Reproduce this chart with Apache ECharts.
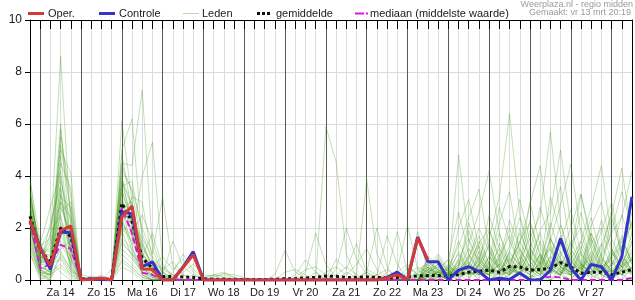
<!DOCTYPE html>
<html><head><meta charset="utf-8">
<script src="https://cdn.jsdelivr.net/npm/echarts@6.0.0/dist/echarts.min.js"></script>
<style>html,body{margin:0;padding:0;background:#fff}#c{width:635px;height:300px}</style>
</head><body><div id="c"></div>
<script>
// 6-hourly steps starting vr 13 mrt 18:00
const dayLabels = ['Za 14','Zo 15','Ma 16','Di 17','Wo 18','Do 19','Vr 20','Za 21','Zo 22','Ma 23','Di 24','Wo 25','Do 26','Vr 27'];
const yTicks = [0, 2, 4, 6, 8, 10];
const legendLabels = ['Oper.', 'Controle', 'Leden', 'gemiddelde', 'mediaan (middelste waarde)'];
const headerLines = ['Weerplaza.nl - regio midden', 'Gemaakt: vr 13 mrt 20:19'];

const oper = [2.3,1.2,0.55,1.9,2.08, 0,0.02,0.08,0, 2.43,2.85,0.42,0.41,0,0,0.48,0.97,0, 0,0,0,0,0,0,0,0,0,0,0, 0,0,0,0,0,0,0.08,0.2,0.02,1.62, 0.77,
  null,null,null,null,null,null,null,null,null,null,null,null,null,null,null,null,null,null,null,null];
const controle = [2.25,1.25,0.41,1.85,1.82, 0,0.05,0.02,0, 2.63,2.54,0.51,0.7,0,0,0.5,1.09,0, 0,0,0,0,0,0,0,0,0,0,0, 0,0,0,0,0,0,0.1,0.3,0,1.65,
  0.7,0.7,0,0.38,0.51,0.33,0,0.07,0.02,0.27,0,0,0.37,1.6,0.45,0,0.6,0.51,0,0.9,3.2];
const gemiddelde = [2.45,1.15,0.7,2.0,1.67, 0.05,0.03,0.04,0.03, 2.95,2.24,0.85,0.45,0.13,0.13,0.12,0.1,0.05, 0.03,0.03,0.02,0.02,0.02,0.02,0.03,0.05,0.05,0.08,0.1, 0.15,0.14,0.1,0.1,0.12,0.1,0.08,0.1,0.12,0.16,
  0.17,0.17,0.16,0.2,0.3,0.34,0.38,0.3,0.52,0.5,0.38,0.4,0.45,0.67,0.5,0.26,0.3,0.3,0.2,0.3,0.4];
const mediaan = [2.3,0.45,0.6,1.35,1.2, 0,0,0,0, 2.77,1.8,0.28,0.2,0,0,0,0,0, 0,0,0,0,0,0,0,0,0,0,0, 0,0,0,0,0,0,0,0,0,0,
  0,0,0,0,0,0,0,0,0,0,0,0.05,0.13,0.1,0,0,0,0,0,0,0.08];

const leden = [
 [2.2,0.8,0.5,3.0,1.5, 0,0,0,0, 2.5,2.0,0.6,0.3,0,0,0,0,0, 0,0,0,0,0,0,0,0,0,0,0, 0,0,0,0,0,0,0,0,0.2,0.5, 0.3,0.2,0,0.5,1.2,0.8,0.3,0,0.2,1.5,2.2,1.0,0.4,0.2,0,0.6,1.8,0.9,0.3,0.5,1.2],
 [2.8,1.0,1.5,8.6,2.0, 0.1,0,0,0, 3.5,2.2,0.8,0.2,0,0,0,0,0, 0,0.1,0,0,0,0,0,0,0,0,0, 0,0,0,0,0,0,0,0,0,0, 0,0,0.2,0.8,0.4,0,0,0.3,1.0,0.6,0.2,0,0,0.5,1.4,2.0,0.8,0.2,0,0.4,0.9],
 [3.2,1.2,0.9,6.0,1.2, 0,0,0,0, 6.1,3.0,1.0,0.5,0.1,0,0,0,0, 0,0,0,0,0,0,0,0,0,0,0, 5.9,4.55,1.0,0.1,0,0,0,0,0,0.3, 0.5,1.0,0.4,0,0,0.6,2.5,1.2,0.6,0.2,0,0.8,1.2,0.3,0,0.5,0.8,0.2,0,0.6,1.5],
 [4.0,0.6,0.3,5.8,2.5, 0.1,0,0,0, 5.0,6.2,1.5,0.4,0,0,0,0,0, 0,0,0,0,0,0,0,0,0,0,0, 0,0,0,0,0,0.2,0.4,0.1,0,0.2, 0.8,0.4,0.2,4.8,1.5,0.6,0.2,0,0.5,1.8,0.9,0.3,0,0.2,1.0,2.6,1.2,0.4,0.8,1.6,0.7],
 [1.5,0.3,0.2,5.5,3.2, 0,0,0,0, 4.5,4.4,7.3,1.2,0.2,0,0,0,0, 0,0,0,0,0,0,0.2,1.15,0.3,0.1,0, 0,0,0,0,0,0,0,0,0,0, 0.2,0,0.5,1.3,2.4,3.5,1.2,0.4,0,0.3,1.1,2.8,1.4,0.5,0.2,0,0.7,1.9,3.0,1.1,0.3],
 [2.5,0.9,0.6,5.0,4.1, 0,0,0,0, 2.0,1.5,4.0,5.3,0.6,0.1,0,0,0, 0,0,0,0,0,0,0,0,0,0,0, 0,0.2,0.5,0.2,0,0,0,0.3,0.6,0.2, 0,0.3,0.1,0.6,1.4,2.6,4.2,1.8,0.5,0.2,0,0.4,1.6,0.8,0.2,1.2,2.4,0.9,0.3,0,0.5],
 [1.8,0.5,0.4,4.8,1.0, 0,0,0,0, 3.8,2.8,0.5,0.1,0,0,0,0,0, 0,0,0,0,0,0,0,0,0,0.3,1.8, 0.6,0.1,0,0,0,0,0,0,0,0, 0.4,0.6,0.2,0,0.9,1.7,0.6,2.2,3.4,1.0,0.3,0.6,0.2,1.5,2.7,1.0,0.2,0,0.6,1.3,2.2],
 [3.0,1.4,2.8,4.2,0.8, 0,0,0,0.4, 4.2,3.5,2.0,1.0,3.2,0.5,0.2,0,0, 0,0,0,0,0,0,0,0,0,0,0, 0,0,0,0,0.3,0.1,0,0,0,0.4, 0.1,0,0.4,1.0,0.3,0.5,1.6,3.2,6.4,2.5,1.2,0.4,0,0.3,0.8,0.2,1.4,2.0,0.7,0.2,0],
 [2.0,0.4,0.1,4.5,3.5, 0,0,0,0, 1.5,1.0,0.3,0,0,0,0,0,0, 0,0,0,0,0,0,0,0,0,0,0, 0,0,0,0.2,3.85,1.0,0.2,0,0,0, 0.6,0.2,0,0.3,0.7,0.2,0.9,0.5,1.3,3.1,1.5,0.6,2.0,3.6,1.2,0.5,0,0.3,1.0,2.5,1.4],
 [1.2,0.2,0.0,3.8,2.2, 0,0,0,0, 3.0,2.5,1.2,0.6,0.2,1.5,0.5,0.2,0, 0.2,0.3,0.1,0,0,0,0,0,0,0,0, 0,0,0,0,0,0,0,0.2,0.1,0, 0,0.1,0.6,0.2,0,1.1,0.4,1.8,0.7,1.4,2.9,4.4,1.6,0.8,0.3,1.5,0.6,0.2,0.9,1.7,0.6],
 [2.6,1.1,1.2,3.5,0.5, 0,0,0,0, 2.2,3.2,3.0,0.8,0.3,0,0,0,0, 0,0,0,0,0,0,0,0,0,0,0, 0,0.4,2.0,0.8,0.2,0,0,0,0,0, 0.3,0.5,0.2,2.0,3.1,1.2,0.4,0,0.6,0.2,1.3,0.5,3.2,1.8,0.4,0,0.8,2.3,1.1,0.3,0.8],
 [3.5,0.7,0.8,3.2,2.8, 0,0,0,0, 4.0,2.0,0.4,0,0,0,0,0,0, 0,0,0,0,0,0,0,0,0.2,0.77,0.3, 0,0,0,0,0,0,0,0,0,0, 0.7,0.3,0.1,0.4,0.2,0.8,1.9,0.9,0.3,0.7,1.6,2.5,5.7,2.2,0.6,1.3,0.4,0,0.5,1.2,3.0],
 [1.0,0.1,0.0,2.8,1.8, 0,0,0,0, 3.3,1.6,0.7,0.3,0,0,0,0,0, 0,0,0,0,0,0,0,0,0,0,0, 0,0,0,0,0.3,2.0,0.5,0,0,0, 0.2,0.9,0.3,0,0.5,0.2,0.7,2.8,1.5,0.6,0.2,1.0,0.3,0.9,2.0,3.3,1.6,0.5,0,0.4,1.1],
 [2.3,0.6,1.8,2.5,0.3, 0.2,0.1,0,0, 1.8,2.4,1.4,0.5,0.9,0.4,0.8,0.3,0, 0.1,0.25,0.2,0.1,0,0,0,0,0,0,0, 0,0,0,0,0,0,0,0,0,0, 0.5,0.2,0,0.8,1.6,0.7,0.3,0.2,1.1,2.4,0.8,1.9,2.6,5.0,2.1,0.6,0.2,1.0,2.7,0.9,0.4],
 [3.8,1.5,0.5,2.2,1.2, 0,0,0,0, 2.7,1.3,0.2,0,0,0,0,0,0, 0,0,0,0,0,0,0,0,0,0,0, 0,0,0.3,0.1,0,0,0,0,0.5,0.2, 0,0.4,0.8,0.3,0.1,0.6,1.3,0.5,0,0.4,1.0,0.3,0.8,1.4,0.5,0.2,1.6,0.6,1.9,3.4,2.0],
 [2.0,0.5,0.3,2.0,2.0, 0,0,0,0, 4.8,2.6,0.9,0.4,0.1,0,0,0,0, 0,0,0,0,0,0,0,0.3,0.4,0.2,0, 0,0,0,0,0,0,0,0,0,0, 0.9,0.6,0.2,0.5,2.2,1.0,0.3,0.8,2.3,1.2,0.5,0.2,1.5,2.9,4.45,1.8,0.6,0.3,0.7,0.2,0.9],
 [1.6,0.3,0.2,1.8,0.6, 0,0,0,0, 1.2,0.8,0.3,0.1,0,0,0,0,0, 0,0,0,0,0,0,0,0,0,0,0, 0,0,0,0,0,0.2,1.7,0.6,0,0, 0.2,0.1,0.3,1.5,0.6,0.2,0.5,1.2,0.4,0.2,0.7,1.8,0.6,0.3,1.0,0.4,2.1,3.0,1.2,0.5,1.8],
 [2.9,0.9,1.0,1.5,0.9, 0,0,0,0, 3.6,3.8,1.8,0.7,0.4,0.2,0,0,0, 0,0,0,0,0,0,0,0,0,0,0, 0,0,0,0,0,0,0.3,1.86,0.3,0, 0.4,0.8,0.3,0.2,0.6,1.4,2.0,0.7,0.2,0.9,0.4,0.1,0.6,1.7,0.8,1.5,2.8,4.4,1.6,0.7,0.3],
 [3.3,1.0,0.4,1.2,1.5, 0,0,0,0, 2.4,1.1,0.4,0.2,0,0.3,1.0,0.4,0.1, 0.2,0.1,0,0,0,0,0,0,0,0,0, 0,0,0,0,0,0,0,0,0,0, 0.1,0.3,0.6,0.2,1.0,0.4,0.2,0.9,1.7,0.6,3.0,1.3,0.4,0.2,0.6,0.3,1.1,0.5,2.4,1.0,2.6],
 [1.4,0.2,0.1,1.0,0.4, 0,0,0,0, 0.8,0.5,0.1,0,0,0,0,0,0, 0,0,0,0,0,0,0,0,0,0,0, 0,0,0,0,0,0,0,0.4,2.1,0.4, 0.6,0.2,0,0.4,0.8,2.0,1.1,0.4,0.2,0.5,1.2,0.6,2.2,1.0,0.3,0.8,0.4,1.3,2.5,4.3,1.7],
 [2.4,0.7,0.6,0.8,0.2, 0,0,0,0, 2.9,2.1,0.6,0.2,0,0,0,0,0, 0,0,0,0,0,0,0,0,0,0,0, 0,0,0,0,0,0,0,0,0.3,1.86, 0.3,0.2,0.5,0.2,0.3,0.6,0.2,1.4,0.6,0.3,0.1,0.4,1.2,0.5,0.3,1.1,0.4,0.2,0.6,0.8,0.3],
 [3.0,0.8,1.4,3.0,2.4, 0,0,0,0, 3.1,1.8,2.5,1.5,0.3,0,0,0,0, 0,0,0,0,0,0,0,0,0.1,0.4,0.5, 0.2,0,0,0,0,0,0,0,0,0, 0.5,0.1,0.2,0.6,1.9,0.8,0.4,0.1,0.6,1.5,0.7,0.3,0.9,2.1,1.0,3.3,1.4,0.5,0.2,0.9,2.3],
 [2.1,0.4,0.2,0.5,0.1, 0,0,0,0, 1.6,1.2,0.5,0.1,0,0,0,0.2,0, 0,0,0,0,0,0,0,0,0,0,0, 0,0,0,0,0,0,0,0,0,0, 0,0.2,0.4,0.1,0.3,0.2,0.9,0.4,0.2,0.6,0.3,1.0,0.5,0.2,0.8,0.3,0.6,1.4,0.5,0.2,0.6],
 [1.7,0.3,0.7,0.3,0.0, 0,0,0,0, 0.5,0.3,0,0,0,0,0,0,0, 0,0,0,0,0,0,0,0,0,0,0, 0,0.8,0.4,1.4,0.3,0,0,0,0,0, 0.2,0.6,0.2,0.3,0.5,1.5,0.6,0.3,0.8,0.4,1.9,0.7,0.3,1.1,0.4,0.6,0.3,0.9,1.8,2.4,4.2],
 [2.7,1.2,2.0,4.0,1.6, 0,0,0.2,0, 3.9,2.9,1.1,0.3,0,0,0,0,0, 0,0,0,0,0,0,0,0,0,0,0, 0,0,0,0,0,0,0,0,0,0, 0.4,0.3,0.8,2.6,1.0,0.4,0.2,0.6,0.3,1.2,0.5,0.2,0.7,0.4,1.5,0.6,0.3,0.8,0.4,0.2,0.5],
 [3.6,0.5,0.3,2.6,3.0, 0,0,0,0, 2.1,1.7,0.9,1.8,0.5,0.2,0.3,0.6,0.2, 0.15,0.2,0.1,0,0,0,0,0,0,0,0, 0,0,0,0,0,0,0,0,0,0, 0.1,0,0.2,0.5,0.2,0.9,0.3,0.6,2.0,0.8,0.3,1.5,0.6,0.4,0.2,1.0,0.5,0.3,0.6,1.5,0.7],
 [1.9,0.6,0.9,1.4,0.7, 0,0,0,0, 4.4,3.4,1.3,0.6,0.2,0,0,0,0, 0,0,0,0,0,0,0,0,0,0,0, 0,0,0,0,0.4,0.2,0,0,0,0, 0.7,0.4,0.1,0.3,0.9,0.3,1.4,0.5,0.2,0.6,2.3,0.9,0.3,0.2,0.7,0.3,1.8,0.7,0.3,0.5,1.0],
 [2.5,0.4,0.2,3.3,1.1, 0,0,0,0, 2.6,1.9,0.2,0,0,0,0,0,0, 0,0,0,0,0,0,0,0,0,0,0, 0.3,0.5,0.2,0.6,1.2,0.4,0,0,0,0, 0.3,0.5,0.2,0.7,0.3,0.2,0.5,0.3,0.9,0.4,0.2,0.6,1.3,0.5,0.2,0.4,0.9,0.3,1.2,0.5,0.2],
 [1.3,0.2,0.4,2.1,0.5, 0,0,0,0, 1.9,0.9,0.3,0.2,0.1,0,0,0,0, 0,0,0,0,0,0,0,0,0,0,0, 0,0,0,0,0,0,0,0,0,0, 0.2,0.1,0.3,0.2,0.6,0.3,0.2,0.4,0.2,0.7,0.3,0.5,0.2,0.8,0.4,0.2,0.3,0.6,0.2,0.4,0.3],
 [3.1,1.3,1.6,5.2,2.6, 0,0.15,0.1,0, 3.4,2.3,1.6,0.9,0.4,0.7,0.2,0,0, 0,0,0,0,0,0,0,0,0,0,0.3, 0,0,0,0,0,0,0,0,0,0, 0.8,0.3,0.2,1.1,0.4,0.7,0.3,1.0,0.5,0.2,0.9,0.4,1.6,0.6,0.3,0.7,0.2,0.5,0.9,1.3,0.6],
 [2.2,0.3,0.0,0.9,0.3, 0,0,0,0, 1.0,0.6,0.2,0,0,0,0,0,0, 0,0,0,0,0,0,0,0,0,0,0, 0,0,0,0,0,0,0.2,0,0,0.1, 0.2,0.4,0.1,0.2,0.3,0.1,0.4,0.2,0.5,0.3,0.1,0.2,0.6,0.3,0.2,0.5,0.1,0.3,0.4,0.2,0.3],
 [2.8,0.9,0.5,1.7,1.9, 0,0,0,0, 2.8,3.0,0.7,0.4,0.1,0,0,0,0, 0,0,0,0,0,0,0,0,0,0,0, 0,0,0,0,0,0,0,0,0,0, 0.4,0.2,0.5,0.3,1.2,0.5,0.2,0.6,0.3,2.0,0.7,0.3,0.5,0.2,0.9,0.4,0.7,0.3,1.1,0.5,0.8],
 [1.1,0.0,0.3,0.6,0.2, 0,0,0,0, 0.7,0.4,0.1,0,0,0,0,0,0, 0,0,0,0,0,0,0,0,0,0,0, 0,0,0,0,0,0,0,0,0,0, 0.1,0.3,0.2,0.4,0.2,0.3,0.6,0.2,0.3,0.1,0.5,0.2,0.4,0.3,0.2,0.6,0.2,0.4,0.3,0.7,0.2],
 [3.4,1.1,1.1,2.4,1.3, 0,0,0,0, 3.7,2.4,1.0,0.5,0.3,0.1,0,0,0, 0,0,0,0,0,0,0,0,0,0,0, 0,0,0,0,0,0,0,0,0,0, 0.5,0.2,0.3,0.6,0.3,1.3,0.5,0.8,0.4,0.2,0.6,0.9,0.3,0.7,0.2,0.5,1.0,0.4,0.2,0.6,1.4],
 [2.0,0.5,2.2,3.6,0.8, 0,0,0,0, 2.3,1.4,0.8,0.3,0,0,0,0,0, 0,0,0,0,0,0,0,0,0,0,0, 0,0,0,0,0,0,0,0,0,0, 0.3,0.6,0.2,0.3,0.7,0.2,0.4,0.3,1.1,0.5,0.2,0.7,0.4,0.2,1.2,0.6,0.3,0.5,0.8,0.3,0.5],
 [2.6,0.6,0.6,1.1,0.4, 0,0,0,0, 1.4,1.0,0.5,0.2,0,0,0,0,0, 0,0,0,0,0,0,0,0,0,0,0, 0,0,0,0,0,0,0,0,0,0, 0.2,0.3,0.4,0.2,0.5,0.3,0.2,0.7,0.4,0.3,0.6,0.2,0.9,0.5,0.3,0.2,0.6,0.4,0.3,0.9,0.4]
];

const categories = controle.map((_, i) => i);
const FONT = '"Liberation Sans", Arial, sans-serif';

const series = [];
leden.forEach(d => series.push({
  type: 'line', name: 'Leden', data: d, symbol: 'none', silent: true,
  lineStyle: { width: 1, color: 'rgba(60,150,20,0.30)' }, emphasis: { disabled: true }, z: 2
}));
series.push({ type: 'line', name: 'mediaan', data: mediaan, symbol: 'none', silent: true,
  lineStyle: { width: 2, color: '#e014e0', type: [6, 3] }, z: 3 });
series.push({ type: 'line', name: 'gemiddelde', data: gemiddelde, symbol: 'none', silent: true,
  lineStyle: { width: 3, color: '#111', type: [3, 3] }, z: 4 });
series.push({ type: 'line', name: 'Controle', data: controle, symbol: 'none', silent: true,
  lineStyle: { width: 3, color: '#3434c8' }, z: 5 });
series.push({ type: 'line', name: 'Oper.', data: oper, symbol: 'none', silent: true,
  lineStyle: { width: 3, color: '#d43a3a' }, z: 6 });

// legend drawn as graphic elements
const legIcons = [
  { x: 28, w: 16, style: { stroke: '#d43a3a', lineWidth: 3 } },
  { x: 99, w: 16, style: { stroke: '#3434c8', lineWidth: 3 } },
  { x: 183, w: 16, style: { stroke: '#b8dca8', lineWidth: 1 } },
  { x: 257, w: 15, style: { stroke: '#111', lineWidth: 3, lineDash: [3, 2] } },
  { x: 355, w: 13, style: { stroke: '#e014e0', lineWidth: 2, lineDash: [9, 2] } }
];
const legTextX = [48, 119, 202, 276, 370];
const graphic = [];
legIcons.forEach((ic, k) => {
  graphic.push({ type: 'line', shape: { x1: ic.x, y1: 13.5, x2: ic.x + ic.w, y2: 13.5 }, style: ic.style, silent: true });
  graphic.push({ type: 'text', x: legTextX[k], y: 13.5, silent: true,
    style: { text: legendLabels[k], font: '11px ' + FONT, fill: '#1a1a1a', verticalAlign: 'middle' } });
});
graphic.push({ type: 'text', x: 633, y: 4.5, silent: true,
  style: { text: headerLines[0], font: '9px ' + FONT, fill: '#9a9a9a', align: 'right', verticalAlign: 'middle' } });
graphic.push({ type: 'text', x: 631, y: 13, silent: true,
  style: { text: headerLines[1], font: '9px ' + FONT, fill: '#9a9a9a', align: 'right', verticalAlign: 'middle' } });

const chart = echarts.init(document.getElementById('c'), null, { renderer: 'canvas' });
chart.setOption({
  animation: false,
  backgroundColor: '#fff',
  grid: { left: 30, right: 1, top: 20, bottom: 20, containLabel: false },
  xAxis: [{
    type: 'category', data: categories, boundaryGap: false, position: 'bottom',
    axisLine: { show: true, onZero: false, lineStyle: { color: '#000', width: 1 } },
    axisTick: { show: true, interval: 0, length: 5, lineStyle: { color: '#000' } },
    axisLabel: { interval: 0, margin: 7, color: '#1a1a1a', fontSize: 11, fontFamily: FONT,
      formatter: (v, i) => (i % 4 === 3 ? dayLabels[(i - 3) / 4] : '') },
    splitLine: { show: true, interval: 0, lineStyle: { width: 1, color: ['#dcdcdc', '#5a5a5a', '#dcdcdc', '#dcdcdc'] } }
  }, {
    type: 'category', data: categories, boundaryGap: false, position: 'top',
    axisLine: { show: true, onZero: false, lineStyle: { color: '#000', width: 1 } },
    axisTick: { show: true, inside: true, interval: 0, length: 9, lineStyle: { color: '#000' } },
    axisLabel: { show: false }, splitLine: { show: false }
  }],
  yAxis: [{
    type: 'value', min: yTicks[0], max: yTicks[yTicks.length - 1], interval: 2,
    axisLine: { show: true, lineStyle: { color: '#000', width: 1 } },
    axisTick: { show: true, length: 5, lineStyle: { color: '#000' } },
    axisLabel: { margin: 8, color: '#1a1a1a', fontSize: 12, fontFamily: FONT },
    splitLine: { show: true, lineStyle: { color: '#dcdcdc', width: 1 } }
  }, {
    type: 'value', min: yTicks[0], max: yTicks[yTicks.length - 1], interval: 2, position: 'right',
    axisLine: { show: true, lineStyle: { color: '#000', width: 1 } },
    axisTick: { show: false }, axisLabel: { show: false }, splitLine: { show: false }
  }],
  series: series,
  graphic: graphic
});
</script>
</body></html>
